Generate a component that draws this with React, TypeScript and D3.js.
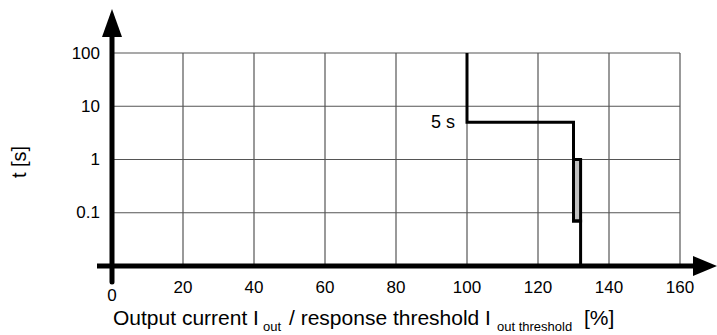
import React from "react";
import * as d3 from "d3";

const xTicks = [0, 20, 40, 60, 80, 100, 120, 140, 160];
const yTicks = [0.1, 1, 10, 100];
const yTickLabels = ["0.1", "1", "10", "100"];
const curveCurrent = [100, 100, 130, 130, 132, 132];
const curveTime = [100, 5, 5, 0.07, 0.07, 0.01];
const bandCurrent = [130, 132];
const bandTime = [0.07, 1];
const curveLabel = "5 s";

const W = 717;
const H = 335;

export default function App() {
  const x = d3.scaleLinear().domain([0, 160]).range([112, 680]);
  const y = d3.scaleLog().domain([0.01, 100]).range([266, 53]);
  const font = "'Liberation Sans', Arial, sans-serif";
  const line = d3
    .line<number>()
    .x((d) => x(curveCurrent[d]))
    .y((d) => y(curveTime[d]));
  const idx = curveCurrent.map((_, i) => i);
  const axisY = y(0.01);
  return (
    <svg
      width={W}
      height={H}
      style={{ position: "absolute", left: 0, top: 0, background: "#fff" }}
      fontFamily={font}
    >
      {/* grid */}
      {xTicks.slice(1).map((t) => (
        <line key={"gx" + t} x1={x(t)} x2={x(t)} y1={y(100)} y2={axisY} stroke="#555" strokeWidth={1.2} />
      ))}
      {yTicks.map((t) => (
        <line key={"gy" + t} x1={x(0)} x2={x(160)} y1={y(t)} y2={y(t)} stroke="#555" strokeWidth={1.2} />
      ))}
      {/* band */}
      <rect
        x={x(bandCurrent[0])}
        y={y(bandTime[1])}
        width={x(bandCurrent[1]) - x(bandCurrent[0])}
        height={y(bandTime[0]) - y(bandTime[1])}
        fill="#c0c0c0"
        stroke="#000"
        strokeWidth={3}
      />
      <path d={line(idx) || ""} fill="none" stroke="#000" strokeWidth={3} strokeLinejoin="miter" strokeLinecap="butt" />
      <text x={455} y={y(5)} fontSize={18} textAnchor="end" dominantBaseline="central">{curveLabel}</text>
      {/* axes */}
      <line x1={97} x2={697} y1={axisY} y2={axisY} stroke="#000" strokeWidth={5} />
      <path d={`M693,${axisY - 10} L717,${axisY} L693,${axisY + 10} Z`} fill="#000" />
      <line x1={x(0)} x2={x(0)} y1={35} y2={282} stroke="#000" strokeWidth={5} strokeLinecap="round" />
      <path d={`M102,37 L112,9 L122,37 Z`} fill="#000" />
      {/* tick labels */}
      {xTicks.map((t) => (
        <text key={"tx" + t} x={x(t)} y={t === 0 ? 301 : 293} fontSize={17} textAnchor="middle">
          {t}
        </text>
      ))}
      {yTicks.map((t, i) => (
        <text key={"ty" + t} x={100} y={y(t)} fontSize={17} textAnchor="end" dominantBaseline="central">
          {yTickLabels[i]}
        </text>
      ))}
      <text transform="translate(26,162) rotate(-90)" fontSize={20} textAnchor="middle">t [s]</text>
      <text x={113} y={325} fontSize={21}>
        Output current I
        <tspan x={263} fontSize={13} dy={6}>out</tspan>
        <tspan x={289} dy={-6}>/ response threshold I</tspan>
        <tspan x={497} fontSize={13} dy={6}>out threshold</tspan>
        <tspan x={584} dy={-6}>[%]</tspan>
      </text>
    </svg>
  );
}
